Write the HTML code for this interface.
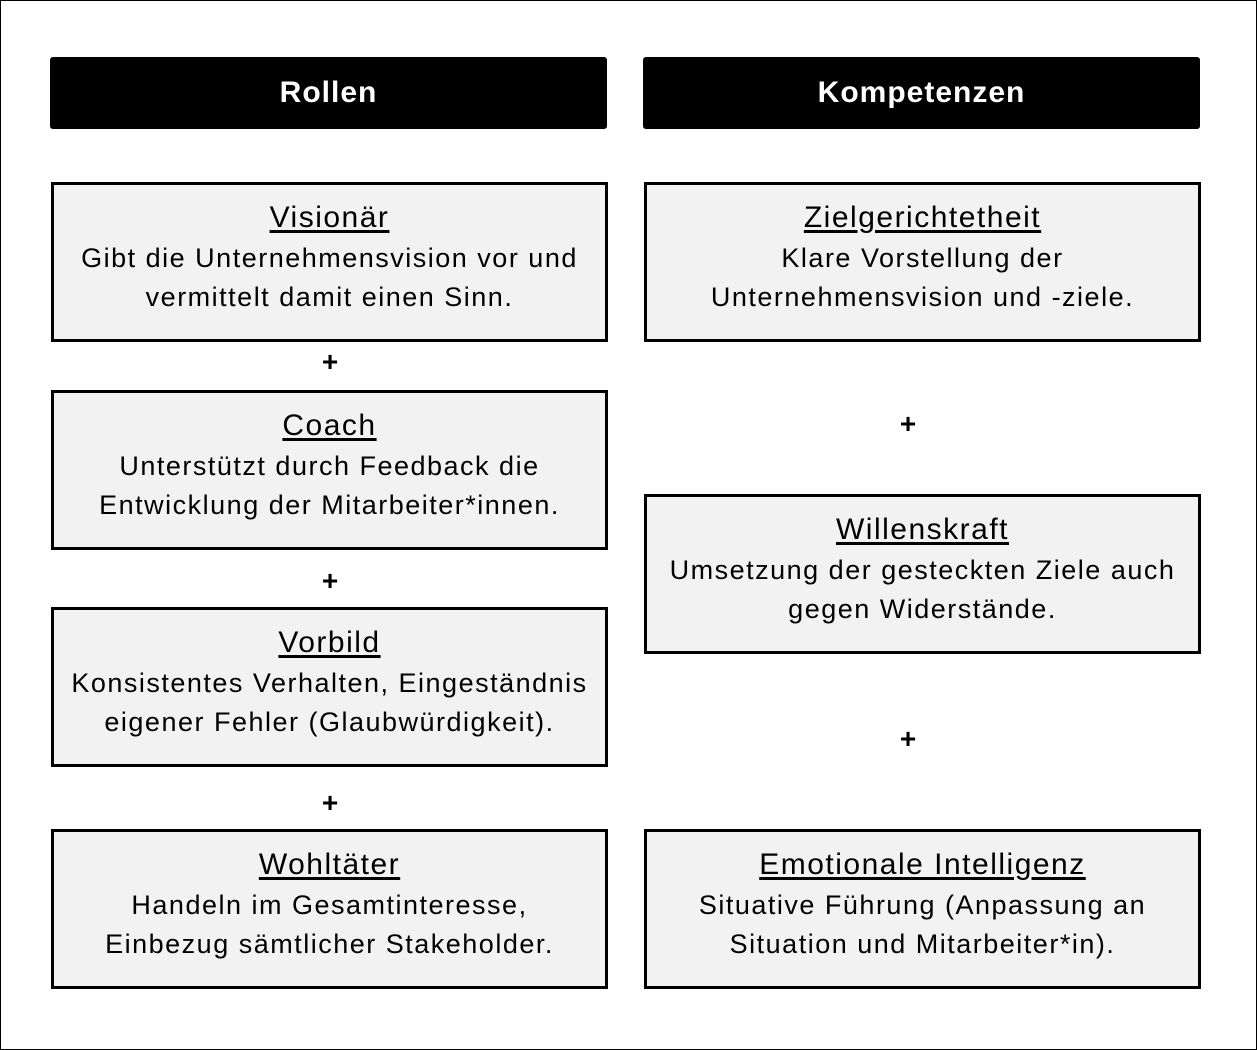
<!DOCTYPE html>
<html><head><meta charset="utf-8"><style>
body{margin:0;width:1257px;height:1050px;background:#fff;position:relative;font-family:"Liberation Sans",sans-serif;overflow:hidden}
.frame{position:absolute;left:0;top:0;width:1255px;height:1048px;border:1px solid #000}
.hd{position:absolute;top:57px;height:72px;width:557px;background:#000;border-radius:3px;color:#fff;font-weight:bold;font-size:30px;letter-spacing:1px;line-height:72px;text-align:center}
.bx{position:absolute;width:550px;height:154px;border:3px solid #000;background:#f2f2f2;text-align:center;box-sizing:content-box}
.bx .t{font-size:30px;letter-spacing:1.5px;text-decoration:underline;text-underline-offset:3px;margin-top:15px;line-height:36px}
.bx .d{font-size:27px;line-height:39px;letter-spacing:1.5px;margin-top:3px;white-space:nowrap}
.p{position:absolute;font-size:28px;font-weight:bold;width:40px;text-align:center;line-height:28px}
</style></head><body>
<div class="frame"></div>
<div class="hd" style="left:50px">Rollen</div>
<div class="hd" style="left:643px">Kompetenzen</div>

<div class="bx" style="left:51px;top:182px;width:551px"><div class="t">Visionär</div><div class="d">Gibt die Unternehmensvision vor und<br>vermittelt damit einen Sinn.</div></div>
<div class="bx" style="left:51px;top:390px;width:551px"><div class="t">Coach</div><div class="d">Unterstützt durch Feedback die<br>Entwicklung der Mitarbeiter*innen.</div></div>
<div class="bx" style="left:51px;top:607px;width:551px"><div class="t">Vorbild</div><div class="d">Konsistentes Verhalten, Eingeständnis<br>eigener Fehler (Glaubwürdigkeit).</div></div>
<div class="bx" style="left:51px;top:829px;width:551px"><div class="t">Wohltäter</div><div class="d">Handeln im Gesamtinteresse,<br>Einbezug sämtlicher Stakeholder.</div></div>

<div class="bx" style="left:644px;top:182px;width:551px"><div class="t">Zielgerichtetheit</div><div class="d">Klare Vorstellung der<br>Unternehmensvision und -ziele.</div></div>
<div class="bx" style="left:644px;top:494px;width:551px"><div class="t">Willenskraft</div><div class="d">Umsetzung der gesteckten Ziele auch<br>gegen Widerstände.</div></div>
<div class="bx" style="left:644px;top:829px;width:551px"><div class="t">Emotionale Intelligenz</div><div class="d">Situative Führung (Anpassung an<br>Situation und Mitarbeiter*in).</div></div>

<div class="p" style="left:310px;top:348px">+</div>
<div class="p" style="left:310px;top:567px">+</div>
<div class="p" style="left:310px;top:789px">+</div>
<div class="p" style="left:888px;top:410px">+</div>
<div class="p" style="left:888px;top:725px">+</div>
</body></html>
